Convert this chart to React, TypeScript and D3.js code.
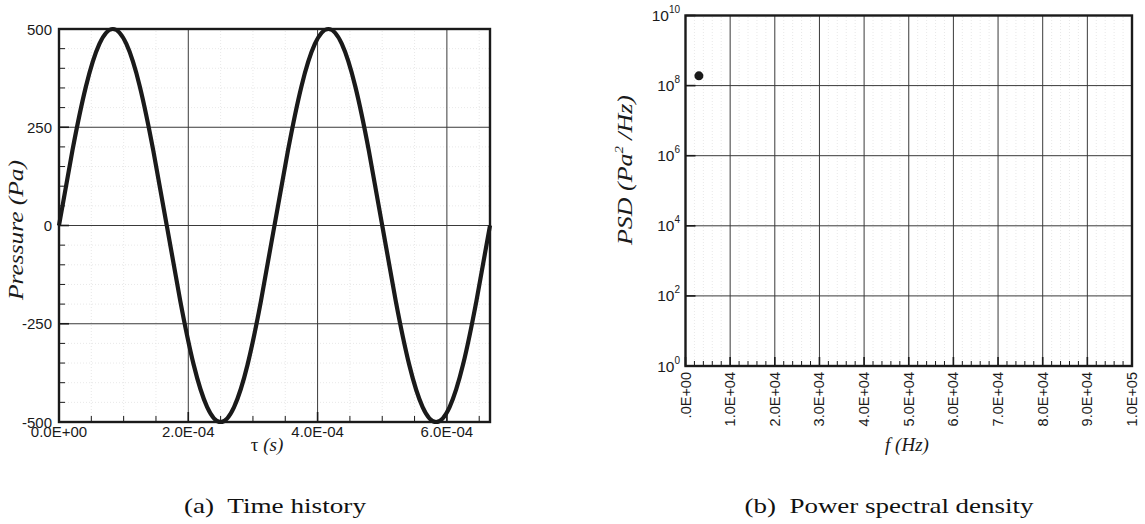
import React from "react";
import * as d3 from "d3";

// ---- Data ----
// (a) time history: sample times in microseconds and pressure (Pa)
const timeMicroSec = [0, 20.8, 41.7, 62.5, 83.3, 104.2, 125, 145.8, 166.7, 187.5, 208.3, 229.2, 250, 270.8, 291.7, 312.5, 333.3, 354.2, 375, 395.8, 416.7, 437.5, 458.3, 479.2, 500, 520.8, 541.7, 562.5, 583.3, 604.2, 625, 645.8, 666.7];
const pressurePa = [0, 191, 354, 462, 500, 462, 354, 191, 0, -191, -354, -462, -500, -462, -354, -191, 0, 191, 354, 462, 500, 462, 354, 191, 0, -191, -354, -462, -500, -462, -354, -191, 0];
const timeTicks = [0, 2e-4, 4e-4, 6e-4];
const timeTickLabels = ["0.0E+00", "2.0E-04", "4.0E-04", "6.0E-04"];
const pressureTicks = [500, 250, 0, -250, -500];
const pressureTickLabels = ["500", "250", "0", "-250", "-500"];

// (b) PSD
const psdFreqHz = [3000];
const psdValue = [1.9e8];
const freqTicks = [0, 1e4, 2e4, 3e4, 4e4, 5e4, 6e4, 7e4, 8e4, 9e4, 1e5];
const freqTickLabels = [".0E+00", "1.0E+04", "2.0E+04", "3.0E+04", "4.0E+04", "5.0E+04", "6.0E+04", "7.0E+04", "8.0E+04", "9.0E+04", "1.0E+05"];
const psdTickExponents = [10, 8, 6, 4, 2, 0];

const captions = ["(a)  Time history", "(b)  Power spectral density"];

const SANS = "'Liberation Sans', Arial, Helvetica, sans-serif";
const SERIF = "'Liberation Serif', 'Times New Roman', serif";
const GRID = "#3a3a3a";
const MINOR = "#e2e2e2";
const INK = "#1a1a1a";

export default function App() {
  // ---- Left chart scales ----
  const xL = d3.scaleLinear().domain([0, 6.667e-4]).range([59, 490]);
  const yL = d3.scaleLinear().domain([-500, 500]).range([422, 29]);
  const lineGen = d3
    .line<number>()
    .x((_, i) => xL(timeMicroSec[i] * 1e-6))
    .y((d) => yL(d))
    .curve(d3.curveNatural);
  const minorTL = d3.range(0, 6.667e-4, 5e-5).filter((v) => Math.abs(v / 2e-4 - Math.round(v / 2e-4)) > 1e-6);
  const minorPL = d3.range(-500, 500, 50).filter((v) => v % 250 !== 0);

  // ---- Right chart scales ----
  const xR = d3.scaleLinear().domain([0, 1e5]).range([685.5, 1132]);
  const yR = d3.scaleLog().domain([1, 1e10]).range([366, 15.5]);
  const minorFR = d3.range(0, 1e5, 2000).filter((v) => v % 10000 !== 0);

  const [l0, l1] = xL.range();
  const [b0, t0] = yL.range();
  const [r0, r1] = xR.range();
  const [b1, t1] = yR.range();

  return (
    <svg
      width={1145}
      height={524}
      viewBox="0 0 1145 524"
      style={{ position: "absolute", left: 0, top: 0, background: "#fff" }}
    >
      <rect x={0} y={0} width={1145} height={524} fill="#fff" />
      {/* ===== Left chart ===== */}
      <g>
        {minorTL.map((v, i) => (
          <line key={"mgx" + i} x1={xL(v)} x2={xL(v)} y1={b0} y2={t0} stroke={MINOR} strokeWidth={0.8} strokeDasharray="1,2" />
        ))}
        {minorPL.map((v, i) => (
          <line key={"mgy" + i} x1={l0} x2={l1} y1={yL(v)} y2={yL(v)} stroke={MINOR} strokeWidth={0.8} strokeDasharray="1,2" />
        ))}
        {timeTicks.slice(1).map((v, i) => (
          <line key={"gx" + i} x1={xL(v)} x2={xL(v)} y1={b0} y2={t0} stroke={GRID} strokeWidth={1} />
        ))}
        {pressureTicks.slice(1, 4).map((v, i) => (
          <line key={"gy" + i} x1={l0} x2={l1} y1={yL(v)} y2={yL(v)} stroke={GRID} strokeWidth={1} />
        ))}
        {/* minor ticks */}
        {minorTL.map((v, i) => (
          <line key={"mtx" + i} x1={xL(v)} x2={xL(v)} y1={b0} y2={b0 - 6} stroke={INK} strokeWidth={1} />
        ))}
        {minorPL.map((v, i) => (
          <line key={"mty" + i} x1={l0} x2={l0 + 6} y1={yL(v)} y2={yL(v)} stroke={INK} strokeWidth={1} />
        ))}
        {timeTicks.map((v, i) => (
          <line key={"tx" + i} x1={xL(v)} x2={xL(v)} y1={b0} y2={b0 - 10} stroke={INK} strokeWidth={1.6} />
        ))}
        {pressureTicks.map((v, i) => (
          <line key={"ty" + i} x1={l0} x2={l0 + 10} y1={yL(v)} y2={yL(v)} stroke={INK} strokeWidth={1.6} />
        ))}
        <path d={lineGen(pressurePa) || ""} fill="none" stroke={INK} strokeWidth={4.2} strokeLinejoin="round" />
        <rect x={l0} y={t0} width={l1 - l0} height={b0 - t0} fill="none" stroke={INK} strokeWidth={2.4} />
        {pressureTicks.map((v, i) => (
          <text key={"ly" + i} x={52} y={yL(v)} fontFamily={SANS} fontSize={15} textAnchor="end" dominantBaseline="central" fill={INK}>
            {pressureTickLabels[i]}
          </text>
        ))}
        {timeTicks.map((v, i) => (
          <text key={"lx" + i} x={xL(v)} y={437} fontFamily={SANS} fontSize={15} textAnchor="middle" fill={INK}>
            {timeTickLabels[i]}
          </text>
        ))}
        <text x={267} y={451} fontFamily={SERIF} fontSize={19} textAnchor="middle" fill={INK}>
          τ <tspan fontStyle="italic">(s)</tspan>
        </text>
        <text
          transform="translate(23,230) rotate(-90)"
          fontFamily={SERIF}
          fontStyle="italic"
          fontSize={21}
          textAnchor="middle"
          textLength={140}
          lengthAdjust="spacingAndGlyphs"
          fill={INK}
        >
          Pressure (Pa)
        </text>
      </g>

      {/* ===== Right chart ===== */}
      <g>
        {minorFR.map((v, i) => (
          <line key={"rmg" + i} x1={xR(v)} x2={xR(v)} y1={b1} y2={t1} stroke={MINOR} strokeWidth={0.8} strokeDasharray="1,2" />
        ))}
        {freqTicks.slice(1, -1).map((v, i) => (
          <line key={"rgx" + i} x1={xR(v)} x2={xR(v)} y1={b1} y2={t1} stroke={GRID} strokeWidth={1} />
        ))}
        {psdTickExponents.slice(1, -1).map((e, i) => (
          <line key={"rgy" + i} x1={r0} x2={r1} y1={yR(Math.pow(10, e))} y2={yR(Math.pow(10, e))} stroke={GRID} strokeWidth={1} />
        ))}
        {minorFR.map((v, i) => (
          <line key={"rmt" + i} x1={xR(v)} x2={xR(v)} y1={b1} y2={b1 - 5} stroke={INK} strokeWidth={1} />
        ))}
        {freqTicks.map((v, i) => (
          <line key={"rtx" + i} x1={xR(v)} x2={xR(v)} y1={b1} y2={b1 - 9} stroke={INK} strokeWidth={1.6} />
        ))}
        {psdTickExponents.map((e, i) => (
          <line key={"rty" + i} x1={r0} x2={r0 + 10} y1={yR(Math.pow(10, e))} y2={yR(Math.pow(10, e))} stroke={INK} strokeWidth={1.6} />
        ))}
        {psdFreqHz.map((f, i) => (
          <circle key={"pt" + i} cx={xR(f)} cy={yR(psdValue[i])} r={4.5} fill={INK} />
        ))}
        <rect x={r0} y={t1} width={r1 - r0} height={b1 - t1} fill="none" stroke={INK} strokeWidth={2.4} />
        {psdTickExponents.map((e, i) => (
          <text key={"rly" + i} x={680} y={yR(Math.pow(10, e)) + 5.5} fontFamily={SANS} fontSize={15.5} textAnchor="end" fill={INK}>
            10
            <tspan fontSize={10} dy={-8}>{String(e)}</tspan>
          </text>
        ))}
        {freqTicks.map((v, i) => (
          <text
            key={"rlx" + i}
            transform={`translate(${xR(v)},372) rotate(-90)`}
            fontFamily={SANS}
            fontSize={14.5}
            textAnchor="end"
            dominantBaseline="central"
            fill={INK}
          >
            {freqTickLabels[i]}
          </text>
        ))}
        <text x={907} y={451} fontFamily={SERIF} fontStyle="italic" fontSize={19} textAnchor="middle" fill={INK}>
          f (Hz)
        </text>
        <text
          transform="translate(632,170) rotate(-90)"
          fontFamily={SERIF}
          fontStyle="italic"
          fontSize={21}
          textAnchor="middle"
          textLength={150}
          lengthAdjust="spacingAndGlyphs"
          fill={INK}
        >
          PSD (Pa
          <tspan fontSize={12} dy={-9}>2</tspan>
          <tspan dy={9}>{"\u00a0/Hz)"}</tspan>
        </text>
      </g>

      {/* ===== Captions ===== */}
      <text
        x={275}
        y={513}
        fontFamily={SERIF}
        fontSize={22}
        textAnchor="middle"
        textLength={182}
        lengthAdjust="spacingAndGlyphs"
        fill="#111"
        xmlSpace="preserve"
      >
        {captions[0]}
      </text>
      <text
        x={889}
        y={513}
        fontFamily={SERIF}
        fontSize={22}
        textAnchor="middle"
        textLength={289}
        lengthAdjust="spacingAndGlyphs"
        fill="#111"
        xmlSpace="preserve"
      >
        {captions[1]}
      </text>
    </svg>
  );
}
